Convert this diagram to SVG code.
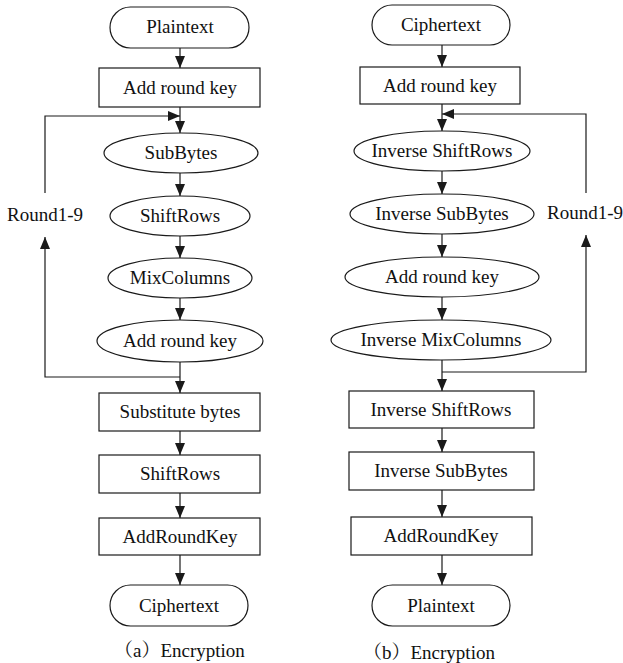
<svg xmlns="http://www.w3.org/2000/svg" width="623" height="663" viewBox="0 0 623 663">
<style>
.s{fill:#fff;stroke:#1a1a1a;stroke-width:1.2}
.t{font-family:"Liberation Serif","Times New Roman",serif;font-size:19px;fill:#111;text-anchor:middle}
.c{font-family:"Liberation Serif","Noto Serif CJK SC","Noto Sans CJK SC",serif;font-size:19px;fill:#111}
.l{fill:none;stroke:#1a1a1a;stroke-width:1.2}
</style>
<defs>
<marker id="a" markerUnits="userSpaceOnUse" markerWidth="13" markerHeight="10" refX="12" refY="5" orient="auto">
<path d="M0,0 L12,5 L0,10 z" fill="#1a1a1a"/>
</marker>
</defs>
<rect width="623" height="663" fill="#fff"/>
<g id="connectors">
<line class="l" x1="180" y1="48" x2="180" y2="68" marker-end="url(#a)"/>
<line class="l" x1="180" y1="107" x2="180" y2="133" marker-end="url(#a)"/>
<line class="l" x1="180" y1="173" x2="180" y2="196" marker-end="url(#a)"/>
<line class="l" x1="180" y1="236" x2="180" y2="258" marker-end="url(#a)"/>
<line class="l" x1="180" y1="298" x2="180" y2="320" marker-end="url(#a)"/>
<line class="l" x1="180" y1="362" x2="180" y2="393" marker-end="url(#a)"/>
<polyline class="l" points="180,377 45,377 45,237" marker-end="url(#a)"/>
<polyline class="l" points="45,193 45,116 180,116" marker-end="url(#a)"/>
<line class="l" x1="180" y1="431" x2="180" y2="455" marker-end="url(#a)"/>
<line class="l" x1="180" y1="493" x2="180" y2="518" marker-end="url(#a)"/>
<line class="l" x1="180" y1="555" x2="180" y2="585" marker-end="url(#a)"/>
<line class="l" x1="442" y1="45" x2="442" y2="67" marker-end="url(#a)"/>
<line class="l" x1="442" y1="104" x2="442" y2="131" marker-end="url(#a)"/>
<line class="l" x1="442" y1="171" x2="442" y2="194" marker-end="url(#a)"/>
<line class="l" x1="442" y1="234" x2="442" y2="257" marker-end="url(#a)"/>
<line class="l" x1="442" y1="297" x2="442" y2="320" marker-end="url(#a)"/>
<line class="l" x1="442" y1="360" x2="442" y2="391" marker-end="url(#a)"/>
<polyline class="l" points="442,372 586,372 586,235" marker-end="url(#a)"/>
<polyline class="l" points="586,193 586,114 442,114" marker-end="url(#a)"/>
<line class="l" x1="442" y1="428" x2="442" y2="452" marker-end="url(#a)"/>
<line class="l" x1="442" y1="490" x2="442" y2="517" marker-end="url(#a)"/>
<line class="l" x1="442" y1="555" x2="442" y2="585" marker-end="url(#a)"/>
</g>
<g id="enc-plaintext"><rect class="s" x="110" y="7" width="139" height="41" rx="20.5"/><text class="t" x="180" y="33">Plaintext</text></g>
<g id="enc-addkey0"><rect class="s" x="99" y="68" width="161" height="39"/><text class="t" x="180" y="94">Add round key</text></g>
<g id="enc-subbytes"><ellipse class="s" cx="181" cy="153" rx="77" ry="20"/><text class="t" x="181" y="159">SubBytes</text></g>
<g id="enc-shiftrows"><ellipse class="s" cx="180" cy="216" rx="70" ry="20"/><text class="t" x="180" y="222">ShiftRows</text></g>
<g id="enc-mixcolumns"><ellipse class="s" cx="180" cy="278" rx="72" ry="20"/><text class="t" x="180" y="284">MixColumns</text></g>
<g id="enc-addkey"><ellipse class="s" cx="180" cy="341" rx="83" ry="21"/><text class="t" x="180" y="347">Add round key</text></g>
<g id="enc-round-label"><text class="t" x="45" y="221">Round1-9</text></g>
<g id="enc-subst"><rect class="s" x="99" y="393" width="161" height="38"/><text class="t" x="180" y="418">Substitute bytes</text></g>
<g id="enc-shiftrows-final"><rect class="s" x="99" y="455" width="161" height="38"/><text class="t" x="180" y="480">ShiftRows</text></g>
<g id="enc-addroundkey-final"><rect class="s" x="99" y="518" width="161" height="37"/><text class="t" x="180" y="543">AddRoundKey</text></g>
<g id="enc-ciphertext"><rect class="s" x="110" y="585" width="138" height="41" rx="20.5"/><text class="t" x="179" y="612">Ciphertext</text></g>
<g id="caption-a"><text class="c" x="114" y="657">（a）Encryption</text></g>
<g id="dec-ciphertext"><rect class="s" x="372" y="5" width="138" height="40" rx="20"/><text class="t" x="441" y="31">Ciphertext</text></g>
<g id="dec-addkey0"><rect class="s" x="360" y="67" width="160" height="37"/><text class="t" x="440" y="92">Add round key</text></g>
<g id="dec-invshiftrows"><ellipse class="s" cx="442" cy="151" rx="88" ry="20"/><text class="t" x="442" y="157">Inverse ShiftRows</text></g>
<g id="dec-invsubbytes"><ellipse class="s" cx="442" cy="214" rx="92" ry="20"/><text class="t" x="442" y="220">Inverse SubBytes</text></g>
<g id="dec-addkey"><ellipse class="s" cx="442" cy="277" rx="97" ry="20"/><text class="t" x="442" y="283">Add round key</text></g>
<g id="dec-invmixcolumns"><ellipse class="s" cx="441" cy="340" rx="110" ry="20"/><text class="t" x="441" y="346">Inverse MixColumns</text></g>
<g id="dec-round-label"><text class="t" x="585" y="219">Round1-9</text></g>
<g id="dec-invshiftrows-final"><rect class="s" x="349" y="391" width="185" height="37"/><text class="t" x="441" y="416">Inverse ShiftRows</text></g>
<g id="dec-invsubbytes-final"><rect class="s" x="349" y="452" width="185" height="38"/><text class="t" x="441" y="477">Inverse SubBytes</text></g>
<g id="dec-addroundkey-final"><rect class="s" x="351" y="517" width="181" height="38"/><text class="t" x="441" y="542">AddRoundKey</text></g>
<g id="dec-plaintext"><rect class="s" x="372" y="585" width="138" height="41" rx="20.5"/><text class="t" x="441" y="612">Plaintext</text></g>
<g id="caption-b"><text class="c" x="363" y="659">（b）Encryption</text></g>
</svg>
